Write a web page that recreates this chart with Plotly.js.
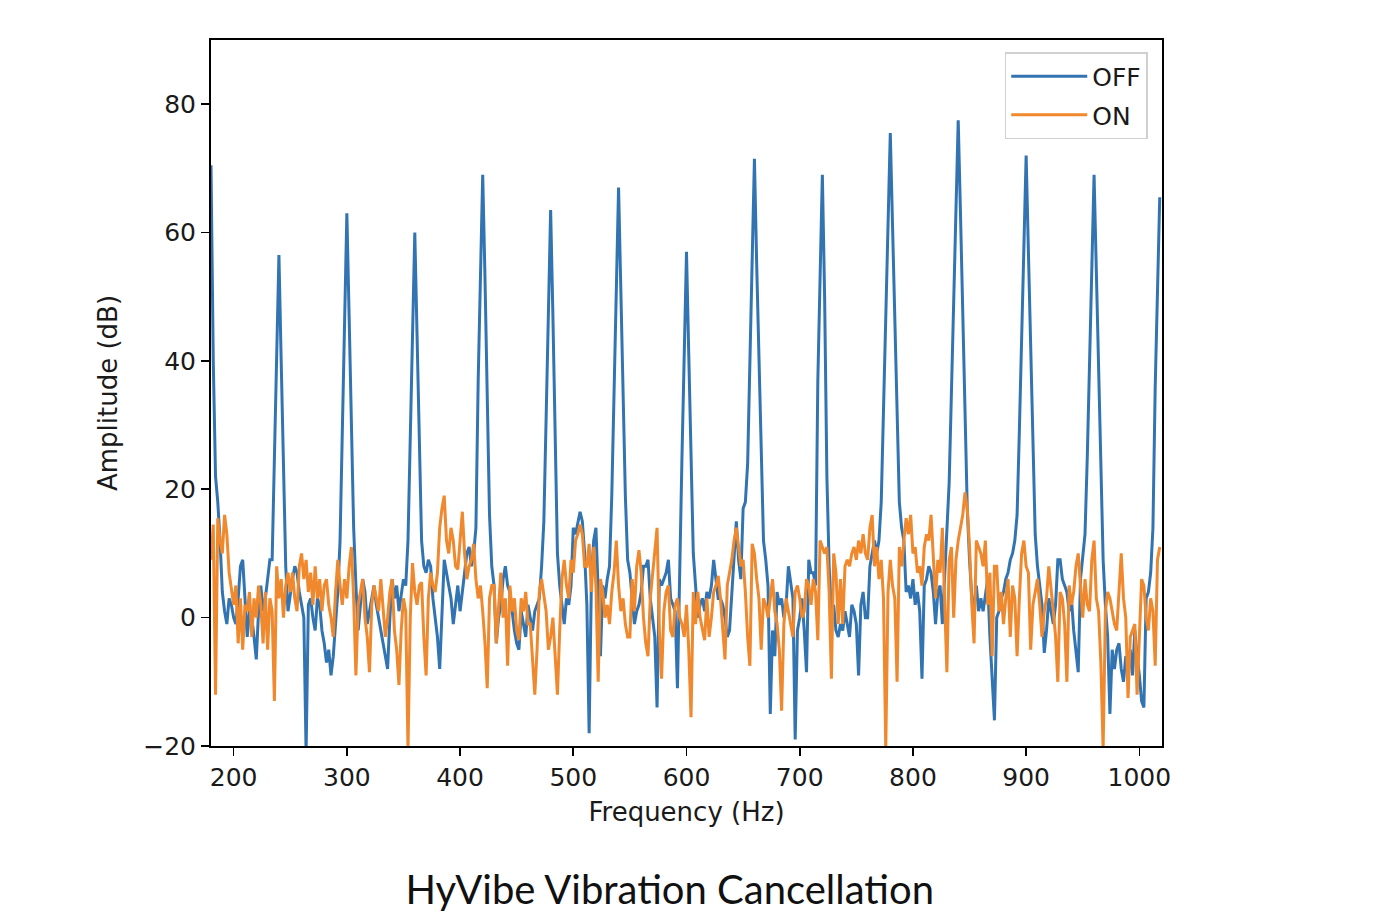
<!DOCTYPE html>
<html>
<head>
<meta charset="utf-8">
<script src="https://cdn.plot.ly/plotly-3.0.1.min.js"></script>
<style>
  html, body { margin: 0; padding: 0; background: #ffffff; }
  #chart { width: 1378px; height: 924px; }
</style>
</head>
<body>
<div id="chart"></div>
<script>
// Frequency grid of the spectrum (Hz): first sample and spacing
const freqStart = 180;
const freqStep = 2;

// Amplitude (dB) with cancellation OFF, 180..1018 Hz every 2 Hz
const ampOff = [
  // 180-238
  70.5, 40, 22, 18, 12, 4, 1, -1, 3, 2,
  0, -1, 3, 8, 9, 2, -3, 1, 0, -3,
  -6.5, 1, 5, 1, 3, 6, 9, 9, 24, 40,
  // 240-298
  56.5, 40, 22, 8, 1, 4, 6, 8, 7, 4,
  2, 0, -21, 2, 3, 0, -2, 3, 2, -2,
  -4, -7, -5, -9, -6, -1, 4, 12, 30, 47,
  // 300-358
  63, 47, 31, 14, 5, -2, 2, 6, 4, -1,
  1, 3, 5, 2, 0, -2, -4, -6, -8, 0,
  6, 3, 5, 1, 4, 6, 5, 12, 28, 44,
  // 360-418
  60, 44, 28, 12, 8, 7, 9, 8, 3, 0,
  -3, -8, 2, 9, 7, 5, 3, -1, 2, 5,
  1, 4, 7, 10, 11, 8, 10, 14, 37, 53,
  // 420-478
  69, 53, 37, 16, 8, 5, -4, 0, 2, 6,
  8, 5, 4, 1, -2, -4, -5, 1, -1, -3,
  2, 0, -2, 1, 2, 3, 8, 15, 31, 47,
  // 480-538
  63.5, 47, 31, 10, 5, 2, -1, 3, 2, 5,
  14, 13, 15, 16.5, 15, 10, 2, -18, 6, 12,
  14, 3, -6, 5, 3, 6, 8, 19, 35, 51,
  // 540-598
  67, 51, 35, 19, 9, 7, 3, -1, 1, 2,
  4, 8, 8, 9, 3, 0, -3, -14, 6, 5,
  6, 7, 9, 3, 2, 1, -11, 9, 25, 41,
  // 600-658
  57, 41, 25, 10, 5, 0, 2, 3, 1, 4,
  3, 5, 9, 6, 3, 3, 2, 0, -3, -2,
  4, 10, 15, 9, 6, 17, 18, 24, 40, 56,
  // 660-718
  71.5, 55, 39, 23, 12, 9, 5, -15, -2, -6,
  4, 2, 3, 0, 2, 8, 5, 3, -19, -2,
  0, 3, -2, -8.5, 9, 7, 7, 5, 37, 53,
  // 720-778
  69, 50, 22, 8, 1, 2, -2, -3, -1, -2,
  1, -1, -3, 2, 1, -1, -9, 2, 4, 0,
  0, 8, 10, 12, 10, 12, 18, 32, 46, 61,
  // 780-838
  75.5, 61, 46, 31, 18, 14, 12, 4, 5, 3,
  6, 2, 4, 1, -9.5, 5, 6, 8, 7, 4,
  -1, 4, 5, -1, 6, 12, 21, 35, 49, 63,
  // 840-898
  77.5, 63, 48, 32, 17, 9, 3, 2, 5, 1,
  3, 1, 4, 6, -3, -10, -16, 0, 1, 3,
  4, 6, 7, 9, 10, 12, 16, 29, 43, 58,
  // 900-958
  72, 57, 42, 27, 13, 8, 5, 2, -5.5, -2,
  3, 1, -1, 2, 9, 9, 6, 5, 4, 1,
  3, -2, -5, -8.5, 6, 10, 13, 25, 40, 54,
  // 960-1018
  69, 54, 39, 24, 9, 2, -3, -15, -5, -8,
  -5, -4, -8, -10, -6, -9, -5, -9, -2, -6,
  -9, -13, -14, 3, 4, 7, 14, 36, 51, 65.5
];

// Amplitude (dB) with cancellation ON, 180..1018 Hz every 2 Hz
const ampOn = [
  // 180-238
  9, 14.5, -12, 15.5, 12, 10, 16, 13, 7, 4,
  2, 5, -4, 3, -5, 2, 1, 4, -3, 3,
  0, 5, 2, -4, 4, -5, 3, 1, -13, 8,
  // 240-298
  3, 6, 0, 5, 7, 4, 7, 3, 1, 8,
  10, 6, 9, 4, 7, 2, 8, 3, 6, 1,
  5, 6, 2, 0, -3, 4, 9, 5, 2, 6,
  // 300-358
  3, 8, 11, 3, -9, 2, 4, 6, 0, -3,
  -8.5, 2, 5, 3, 1, 6, 2, -3, 0, 4,
  6, -2, -5, -10.5, -2, 3, 1, -20.5, 0, 8.5,
  // 360-418
  4, 2, 5, 5.5, -3, -9, 3, 7, 5, 4,
  7, 14, 17, 19, 12, 10, 14, 12, 8, 7.5,
  12, 16.5, 10, 6, 8, 9, 11.5, 6, 3, 5,
  // 420-478
  1, -4, -11, 3, 5, 5, -4, 2, 7, 0,
  3, -7.5, 5, 1, 3, -2, -3.5, 3, 1, 4,
  -1, -1, -6, -12, -5, 4, 6, 3, 1, -5,
  // 480-538
  -3, 0, -6, -12, -2, 6, 9, 5, 3, 9,
  7, 12, 13, 14.5, 13, 8, 8, 11.5, 4, 11,
  5, -10, 6, 4, 0, 2, -1, 4, 7, 12,
  // 540-598
  5, 1, 3, -1, -3, -3, 6, 1, 8, 10.5,
  7, 0, -4, -6, 3, 7, 10, 14, -2, -9.5,
  1, 4, 5, -2, -3, 2, 3, 0, -1, -3,
  // 600-658
  2, -5, -15.5, 4, -1, 4, 0, -2, -3.5, 3,
  -3, 0, 4, 5, 6.5, 3, -2, -6.5, 5, 7,
  9, 12, 14, 11, 8, 9, 4, -3, -7.5, 11.5,
  // 660-718
  10, 6, 3, -5, 3, 2, 0, 3, 6, 1,
  -1, -5, -14.5, -1, 3, 1, -1, -3, 4, 5,
  3, 0, 1, 6, 5, 2, 6, 4, -3.5, 12,
  // 720-778
  11, 10, 11, 4, -9.5, 10, 7, -1, 6, -1,
  8, 9, 8, 10, 11, 9, 12, 10, 13, 10,
  9, 14, 16, 8, 11, 6, 9, 3, -20.5, 4,
  // 780-838
  9, 5, 3, -10, 11, 8, 12, 15.5, 13, 16,
  10, 11, 7, 8, 5, 11, 13, 12, 16, 10,
  3, 9, 7, 14, 4, -8.5, 9, 11, 0, 9,
  // 840-898
  12, 14, 16, 19.5, 17, 11, 2, -4, 12, 11,
  10, 8, 12, 2, 7, -6, 8, 8, 1, 4,
  -1, 3, 6, -3, 5, 3, -6, 3, 10, 12,
  // 900-958
  8, 7, -5, 2, 4, 6, 2, -3, 1, 3,
  8, 5, 1, -3, -10, 4, 3, -1, -10, 5,
  2, 4, 8, 10, 4, 0, 6, 2, 1, 9,
  // 960-1018
  12, 3, 1, -7, -20.5, 1, 4, 3, 1, -1,
  -2, 5, 10, 3, 0, -12.5, -3, -2, -1, -12,
  -2, 6, 5, 0, -2, 3, 1, -7.5, 9, 11
];

const seriesNames = ['OFF', 'ON'];
const xTickVals = [200, 300, 400, 500, 600, 700, 800, 900, 1000];
const yTickVals = [-20, 0, 20, 40, 60, 80];
const xTitle = 'Frequency (Hz)';
const yTitle = 'Amplitude (dB)';
const captionText = 'HyVibe Vibration Cancellation';

const tickFont = { family: 'DejaVu Sans', size: 25, color: '#1a1a1a' };
const titleFont = { family: 'DejaVu Sans', size: 26, color: '#1a1a1a' };

const traces = [
  {
    type: 'scatter', mode: 'lines', name: seriesNames[0], legendgroup: 'a',
    x0: freqStart, dx: freqStep, y: ampOff,
    line: { color: '#3274b2', width: 3 }
  },
  {
    type: 'scatter', mode: 'lines', name: seriesNames[1], legendgroup: 'b',
    x0: freqStart, dx: freqStep, y: ampOn,
    line: { color: '#f0882d', width: 3 }
  }
];

const layout = {
  width: 1378, height: 924,
  paper_bgcolor: '#ffffff', plot_bgcolor: '#ffffff',
  margin: { l: 211, r: 216, t: 40, b: 178, autoexpand: false },
  showlegend: true,
  title: {
    text: captionText,
    font: { family: 'Lato', size: 40, color: '#111111' },
    x: 0.486, xref: 'container', xanchor: 'center',
    y: 0.037, yref: 'container', yanchor: 'middle'
  },
  xaxis: {
    range: [180, 1020], tickmode: 'array', tickvals: xTickVals,
    ticks: 'outside', ticklen: 8, tickwidth: 1.6, tickcolor: '#000',
    showline: true, linecolor: '#000', linewidth: 2, mirror: true,
    showgrid: false, zeroline: false, tickfont: tickFont,
    title: { text: xTitle, font: titleFont, standoff: 12 }
  },
  yaxis: {
    range: [-20, 90], tickmode: 'array', tickvals: yTickVals,
    ticks: 'outside', ticklen: 8, tickwidth: 1.6, tickcolor: '#000',
    showline: true, linecolor: '#000', linewidth: 2, mirror: true,
    showgrid: false, zeroline: false, tickfont: tickFont,
    title: { text: yTitle, font: titleFont, standoff: 18 }
  },
  legend: {
    x: 0.985, xanchor: 'right', y: 0.983, yanchor: 'top',
    bgcolor: '#ffffff', bordercolor: '#d0d0d0', borderwidth: 1.5,
    font: { family: 'DejaVu Sans', size: 25, color: '#1a1a1a' },
    itemwidth: 76, tracegroupgap: 3
  },
  hovermode: false
};

Plotly.newPlot('chart', traces, layout, { staticPlot: true, displayModeBar: false });
</script>
</body>
</html>
